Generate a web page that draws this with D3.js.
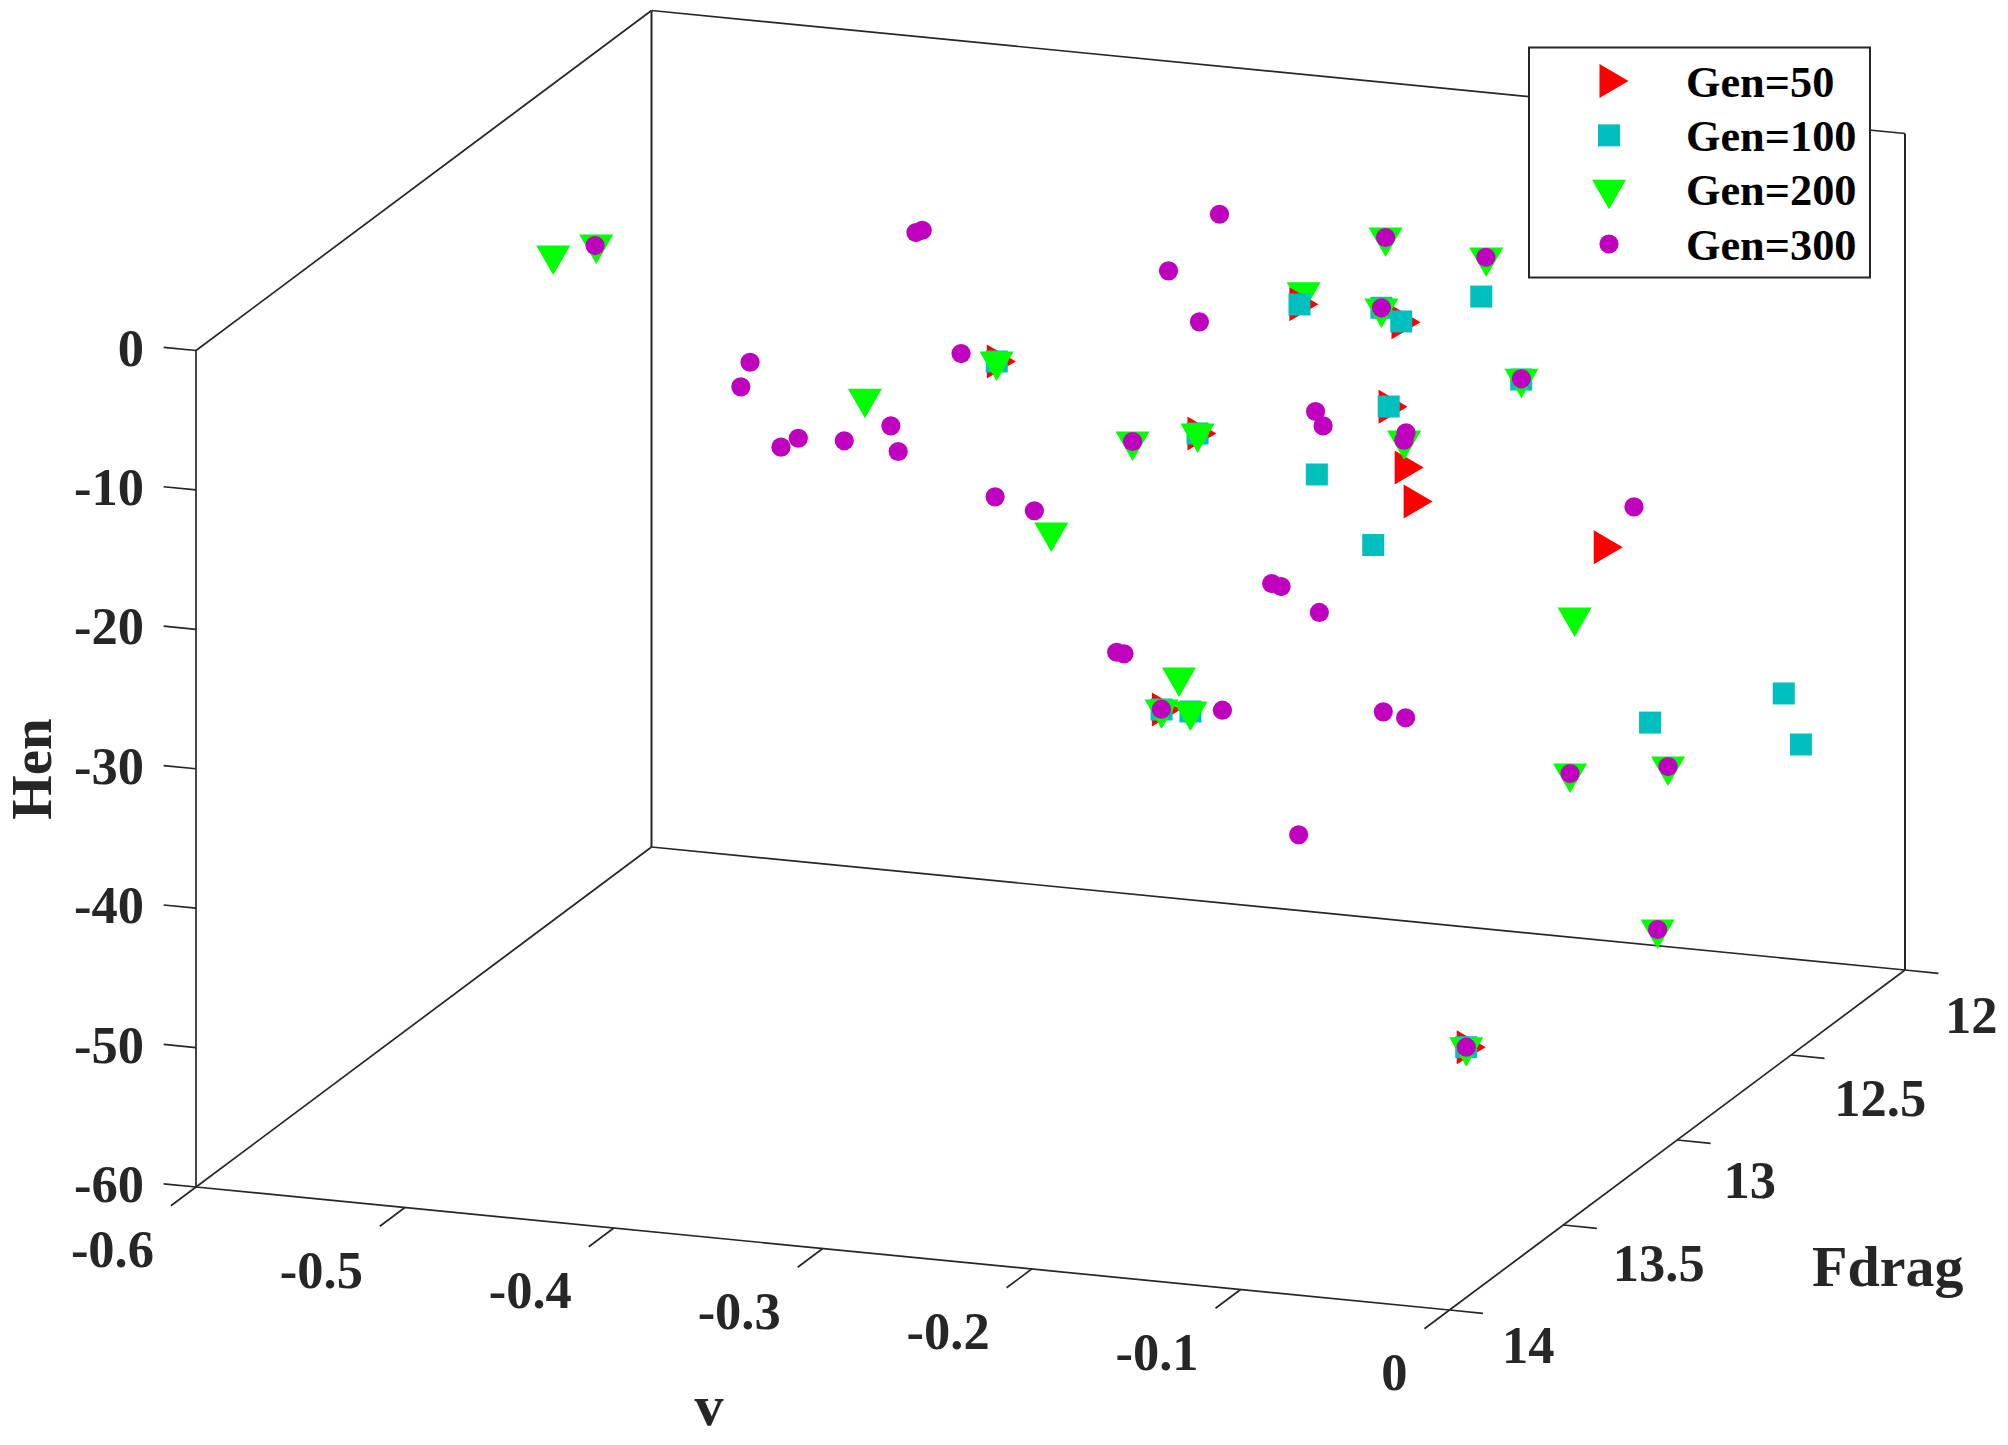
<!DOCTYPE html>
<html>
<head>
<meta charset="utf-8">
<script src="https://cdn.jsdelivr.net/npm/d3@7"></script>
<style>
  body { margin: 0; background: #fff; }
  text { font-family: "Liberation Serif", serif; font-weight: bold; fill: #262626; }
  .box, .tick { stroke: #262626; stroke-width: 1.7; fill: none; }
</style>
</head>
<body>
<script>
// Tick values
const vTicks = [-0.6, -0.5, -0.4, -0.3, -0.2, -0.1, 0];
const fdragTicks = [12, 12.5, 13, 13.5, 14];
const henTicks = [0, -10, -20, -30, -40, -50, -60];

// Points as [v, Fdrag, Hen]. A single view does not show depth, so Fdrag is a rough guess
const gen50 = [
  [-0.2414, 12.447, -10.34], [-0.1925, 12.447, -10.92], [-0.1987, 12.447, -17.07],
  [-0.2902, 12.447, -20.33], [-0.1910, 12.447, -21.32], [-0.1867, 12.447, -23.69],
  [-0.0957, 12.447, -25.63], [-0.3072, 12.447, -40.38], [-0.3862, 12.447, -16.58],
  [-0.0465, 13.5, -47.93]
];
const gen100 = [
  [-0.2411, 12.447, -10.36], [-0.2019, 12.447, -10.02], [-0.1924, 12.447, -10.86],
  [-0.1541, 12.447, -8.51], [-0.1350, 12.447, -14.18], [-0.1984, 12.447, -17.05],
  [-0.2899, 12.447, -20.33], [-0.2328, 12.447, -22.43], [-0.2058, 12.447, -27.09],
  [-0.3071, 12.447, -40.38], [-0.2933, 12.447, -40.32], [-0.0093, 12.447, -34.85],
  [-0.0733, 12.447, -37.88], [-0.0011, 12.447, -38.39], [-0.0465, 13.5, -47.93],
  [-0.3860, 12.447, -16.58]
];
const gen200 = [
  [-0.1999, 12.447, -4.95], [-0.1517, 12.447, -5.68], [-0.2392, 12.446, -9.47],
  [-0.2019, 12.447, -10.07], [-0.1349, 12.447, -14.13], [-0.1910, 12.447, -19.38],
  [-0.3210, 12.447, -21.36], [-0.2899, 12.447, -20.33], [-0.5983, 12.447, -12.10],
  [-0.5777, 12.447, -11.01], [-0.4491, 12.447, -20.18], [-0.3861, 12.447, -16.58],
  [-0.3599, 12.447, -28.46], [-0.2988, 12.447, -37.96], [-0.3071, 12.447, -40.38],
  [-0.2933, 12.447, -40.32], [-0.1094, 12.447, -30.87], [-0.1116, 12.447, -42.10],
  [-0.0647, 12.447, -40.91], [-0.0697, 12.447, -52.67], [-0.0465, 13.5, -47.93]
];
const gen300 = [
  [-0.2794, 12.447, -4.45], [-0.3038, 12.447, -8.87], [-0.1999, 12.447, -4.95],
  [-0.1519, 12.447, -5.66], [-0.2890, 12.447, -12.31], [-0.2019, 12.447, -10.02],
  [-0.1349, 12.447, -14.13], [-0.2334, 12.447, -17.92], [-0.2298, 12.447, -18.90],
  [-0.1901, 12.447, -18.81], [-0.1911, 12.447, -19.36], [-0.3210, 12.447, -21.36],
  [-0.5783, 12.447, -11.09], [-0.4247, 12.447, -7.90], [-0.4217, 12.447, -7.69],
  [-0.5041, 12.447, -18.37], [-0.5085, 12.447, -20.20], [-0.4031, 12.447, -16.26],
  [-0.4810, 12.447, -23.48], [-0.4893, 12.447, -24.24], [-0.4590, 12.447, -23.34],
  [-0.4367, 12.447, -21.94], [-0.4332, 12.447, -23.73], [-0.3868, 12.447, -26.30],
  [-0.3680, 12.447, -27.02], [-0.2544, 12.447, -30.57], [-0.2499, 12.447, -30.72],
  [-0.2316, 12.447, -32.31], [-0.3286, 12.447, -36.59], [-0.3251, 12.447, -36.65],
  [-0.3072, 12.447, -40.36], [-0.2780, 12.447, -40.00], [-0.2010, 12.447, -38.99],
  [-0.1903, 12.447, -39.26], [-0.2415, 12.447, -48.40], [-0.0810, 12.447, -22.52],
  [-0.1116, 12.447, -42.10], [-0.0647, 12.447, -40.91], [-0.0697, 12.447, -52.67],
  [-0.0465, 13.5, -47.93]
];
const legendLabels = ["Gen=50", "Gen=100", "Gen=200", "Gen=300"];

const svgWidth = 2008;
const svgHeight = 1445;

const svg = d3.select("body")
  .append("svg")
  .attr("width", svgWidth)
  .attr("height", svgHeight);

// The view is orthographic, so each axis just adds a fixed screen vector
const origin = [196, 1187];
const vX = d3.scaleLinear().domain([-0.6, 0]).range([0, 1253.5]);
const vY = d3.scaleLinear().domain([-0.6, 0]).range([0, 123]);
const fX = d3.scaleLinear().domain([14, 12]).range([0, 455.5]);
const fY = d3.scaleLinear().domain([14, 12]).range([0, -340]);
const henY = d3.scaleLinear().domain([-60, 0]).range([0, -836.5]);

const project = (v, f, h) => [
  origin[0] + vX(v) + fX(f),
  origin[1] + vY(v) + fY(f) + henY(h)
];

// Box edges
const edge = (a, b) => svg.append("path")
  .attr("class", "box")
  .attr("d", d3.line()([project(...a), project(...b)]));

edge([-0.6, 14, -60], [-0.6, 14, 0]);
edge([-0.6, 14, 0], [-0.6, 12, 0]);
edge([-0.6, 12, 0], [-0.6, 12, -60]).style("stroke-width", 2);
edge([-0.6, 12, 0], [0, 12, 0]);
edge([0, 12, 0], [0, 12, -60]).style("stroke-width", 2);
edge([-0.6, 14, -60], [-0.6, 12, -60]);
edge([-0.6, 12, -60], [0, 12, -60]);
edge([0, 12, -60], [0, 14, -60]);
edge([0, 14, -60], [-0.6, 14, -60]);

// Ticks
vTicks.forEach(t => {
  svg.append("path").attr("class", "tick")
    .attr("d", d3.line()([project(t, 14, -60), project(t, 14.11, -60)]));
  const p = project(t, 14, -60);
  svg.append("text")
    .attr("x", p[0] - 42)
    .attr("y", p[1] + 80)
    .attr("text-anchor", "end")
    .attr("font-size", 52.5)
    .text(t);
});

const fdragLabelX = d3.scaleLinear().domain([12, 14]).range([1945, 1502]);
const fdragLabelY = d3.scaleLinear().domain([12, 14]).range([1033, 1363]);
fdragTicks.forEach(t => {
  svg.append("path").attr("class", "tick")
    .attr("d", d3.line()([project(0, t, -60), project(0.016, t, -60)]));
  svg.append("text")
    .attr("x", fdragLabelX(t))
    .attr("y", fdragLabelY(t))
    .attr("font-size", 52.5)
    .text(t);
});

henTicks.forEach(t => {
  svg.append("path").attr("class", "tick")
    .attr("d", d3.line()([project(-0.6, 14, t), project(-0.6155, 14, t)]));
  svg.append("text")
    .attr("x", 144)
    .attr("y", project(-0.6, 14, t)[1] + 15)
    .attr("text-anchor", "end")
    .attr("font-size", 52.5)
    .text(t);
});

// Axis titles
svg.append("text").attr("x", 709).attr("y", 1425)
  .attr("text-anchor", "middle").attr("font-size", 58).text("v");
svg.append("text").attr("x", 1812).attr("y", 1286)
  .attr("font-size", 58).text("Fdrag");
svg.append("text")
  .attr("transform", "translate(51, 769) rotate(-90)")
  .attr("text-anchor", "middle").attr("font-size", 57).text("Hen");

// Marker shapes
const triRight = { draw(c) { c.moveTo(-9.5, -17); c.lineTo(19.5, 0); c.lineTo(-9.5, 17); c.closePath(); } };
const triDown = { draw(c) { c.moveTo(-17, -10); c.lineTo(17, -10); c.lineTo(0, 19.5); c.closePath(); } };

const series = [
  { data: gen50, color: "#ff0000", path: d3.symbol().type(triRight)() },
  { data: gen100, color: "#00bfbf", path: d3.symbol().type(d3.symbolSquare).size(484)() },
  { data: gen200, color: "#00ff00", path: d3.symbol().type(triDown)() },
  { data: gen300, color: "#bf00bf", path: d3.symbol().type(d3.symbolCircle).size(Math.PI * 9.6 * 9.6)() }
];

// Paint back to front, deepest Fdrag first; ties keep the series order
const markers = d3.sort(
  series.flatMap(s => s.data.map(point => ({ point, color: s.color, path: s.path }))),
  d => d.point[1]
);

svg.append("g").selectAll("path")
  .data(markers)
  .join("path")
  .attr("d", d => d.path)
  .attr("fill", d => d.color)
  .attr("transform", d => `translate(${project(...d.point)})`);

// Legend
const legend = svg.append("g");
legend.append("rect")
  .attr("x", 1529).attr("y", 47.5)
  .attr("width", 341).attr("height", 230)
  .attr("fill", "#fff")
  .attr("stroke", "#262626")
  .attr("stroke-width", 2);

const legendY = d3.scalePoint().domain(legendLabels).range([81, 244]);
series.forEach((s, i) => {
  const label = legendLabels[i];
  legend.append("path")
    .attr("d", s.path)
    .attr("fill", s.color)
    .attr("transform", `translate(1609, ${legendY(label)})`);
  legend.append("text")
    .attr("x", 1686)
    .attr("y", legendY(label) + 15.5)
    .attr("font-size", 44.3)
    .style("fill", "#000")
    .text(label);
});
</script>
</body>
</html>
